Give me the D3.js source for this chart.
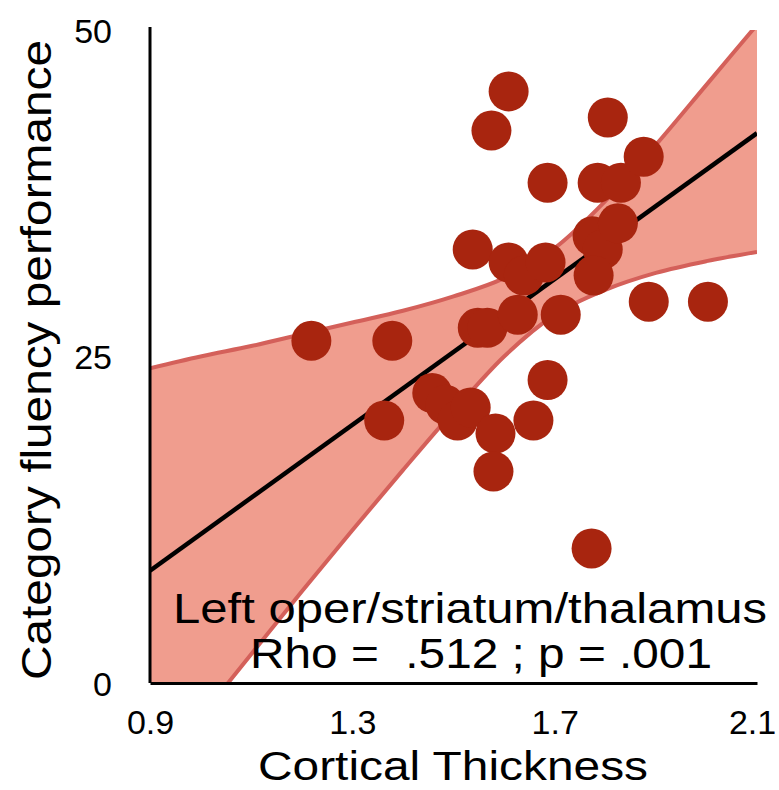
<!DOCTYPE html>
<html>
<head>
<meta charset="utf-8">
<script src="https://cdn.jsdelivr.net/npm/d3@7"></script>
<style>
  body { margin: 0; background: #fff; }
  text { font-family: "Liberation Sans", Arial, sans-serif; fill: #000; }
</style>
</head>
<body>
<div id="chart"></div>
<script>
// Space of graph
var width = 779,
    height = 790;
var margin = { left: 150, right: 22, top: 30, bottom: 107 };

// Data
var thickness = [1.219, 1.379, 1.363, 1.458, 1.484, 1.508, 1.534, 1.538, 1.548, 1.567,
                 1.583, 1.579, 1.575, 1.609, 1.609, 1.639, 1.627, 1.682, 1.686, 1.686,
                 1.658, 1.712, 1.773, 1.775, 1.795, 1.777, 1.785, 1.831, 1.825, 1.805,
                 1.876, 1.886, 2.003];
var fluency = [26.2, 26.2, 20.1, 22.2, 21.3, 20.1, 21.1, 33.2, 27.2, 27.2,
               19.1, 16.2, 42.3, 45.3, 32.2, 31.2, 28.2, 32.2, 38.3, 23.2,
               20.1, 28.2, 10.3, 34.2, 33.2, 31.2, 38.3, 38.3, 35.2, 43.3,
               40.3, 29.2, 29.2];

// Fit line end points
var fitX = [0.9, 2.1];
var fitY = [8.6, 42.1];

// Confidence band
var bandX = [0.9, 1.0, 1.1, 1.2, 1.3, 1.4, 1.5, 1.6, 1.7, 1.8, 1.9, 2.0, 2.1];
var bandUpper = [24.1, 25.0, 25.8, 26.7, 27.6, 28.5, 29.6, 31.0, 33.3, 36.9, 41.2, 45.8, 50.4];
var bandLower = [-7.3, -2.6, 2.2, 7.0, 11.7, 16.3, 20.8, 25.0, 28.2, 30.1, 31.4, 32.3, 33.0];

var xTicks = [0.9, 1.3, 1.7, 2.1];
var yTicks = [0, 25, 50];

var svg = d3.select("#chart")
            .append("svg")
              .attr("width", width)
              .attr("height", height);

// Scales
var scaleX = d3.scaleLinear()
               .domain([0.9, 2.1])
               .range([margin.left, width - margin.right]);
var scaleY = d3.scaleLinear()
               .domain([0, 50])
               .range([height - margin.bottom, margin.top]);

svg.append("clipPath")
    .attr("id", "plot")
   .append("rect")
    .attr("x", scaleX(0.9))
    .attr("y", scaleY(50))
    .attr("width", scaleX(2.1) - scaleX(0.9))
    .attr("height", scaleY(0) - scaleY(50));

var band = bandX.map(function(d, i) { return { x: d, lo: bandLower[i], hi: bandUpper[i] }; });

var g = svg.append("g").attr("clip-path", "url(#plot)");

// Band
g.append("path")
  .datum(band)
  .attr("fill", "#f09d8e")
  .attr("d", d3.area()
    .curve(d3.curveMonotoneX)
    .x(function(d) { return scaleX(d.x); })
    .y0(function(d) { return scaleY(d.lo); })
    .y1(function(d) { return scaleY(d.hi); }));

["lo", "hi"].forEach(function(k) {
  g.append("path")
    .datum(band)
    .attr("fill", "none")
    .attr("stroke", "#d4605a")
    .attr("stroke-width", 4)
    .attr("d", d3.line()
      .curve(d3.curveMonotoneX)
      .x(function(d) { return scaleX(d.x); })
      .y(function(d) { return scaleY(d[k]); }));
});

// Fit line
g.append("line")
  .attr("x1", scaleX(fitX[0])).attr("y1", scaleY(fitY[0]))
  .attr("x2", scaleX(fitX[1])).attr("y2", scaleY(fitY[1]))
  .attr("stroke", "#000")
  .attr("stroke-width", 4.5);

// Points
svg.selectAll(".dot")
   .data(thickness)
   .enter()
   .append("circle")
    .attr("class", "dot")
    .attr("cx", function(d) { return scaleX(d); })
    .attr("cy", function(d, i) { return scaleY(fluency[i]); })
    .attr("r", 20)
    .attr("fill", "#a8250f");

// Axes
var xAxis = svg.append("g")
   .attr("transform", "translate(0," + scaleY(0) + ")")
   .call(d3.axisBottom(scaleX).tickValues(xTicks).tickSize(0).tickPadding(27).tickSizeOuter(0)
         .tickFormat(d3.format(".1f")));
var yAxis = svg.append("g")
   .attr("transform", "translate(" + scaleX(0.9) + ",0)")
   .call(d3.axisLeft(scaleY).tickValues(yTicks).tickSize(0).tickPadding(38).tickSizeOuter(0));

[xAxis, yAxis].forEach(function(a) {
  a.select(".domain").attr("stroke", "#000").attr("stroke-width", 3);
  a.selectAll("text").style("font-family", "Liberation Sans, Arial, sans-serif")
   .style("font-size", "34px").attr("fill", "#000");
});
yAxis.select(".domain").attr("d", "M0," + (scaleY(50) - 3) + "V" + scaleY(0));
yAxis.selectAll("text").attr("dy", "0.36em");
xAxis.selectAll("text").attr("dy", "0.71em");
// last label sits against the right edge, keep it inside
xAxis.selectAll(".tick").filter(function(d) { return d === 2.1; })
     .select("text").attr("x", -5);

// Titles
svg.append("text")
   .attr("x", 453).attr("y", 780)
   .attr("text-anchor", "middle")
   .attr("textLength", 390).attr("lengthAdjust", "spacingAndGlyphs")
   .style("font-size", "41px")
   .text("Cortical Thickness");

svg.append("text")
   .attr("transform", "translate(51,360) rotate(-90)")
   .attr("text-anchor", "middle")
   .attr("textLength", 640).attr("lengthAdjust", "spacingAndGlyphs")
   .style("font-size", "42px")
   .text("Category fluency performance");

svg.append("text")
   .attr("x", 470).attr("y", 623)
   .attr("text-anchor", "middle")
   .attr("textLength", 594).attr("lengthAdjust", "spacingAndGlyphs")
   .style("font-size", "42px")
   .text("Left oper/striatum/thalamus");

svg.append("text")
   .attr("x", 481).attr("y", 668)
   .attr("text-anchor", "middle")
   .attr("textLength", 462).attr("lengthAdjust", "spacingAndGlyphs")
   .style("font-size", "42px")
   .style("white-space", "pre")
   .text("Rho =  .512 ; p = .001");
</script>
</body>
</html>
